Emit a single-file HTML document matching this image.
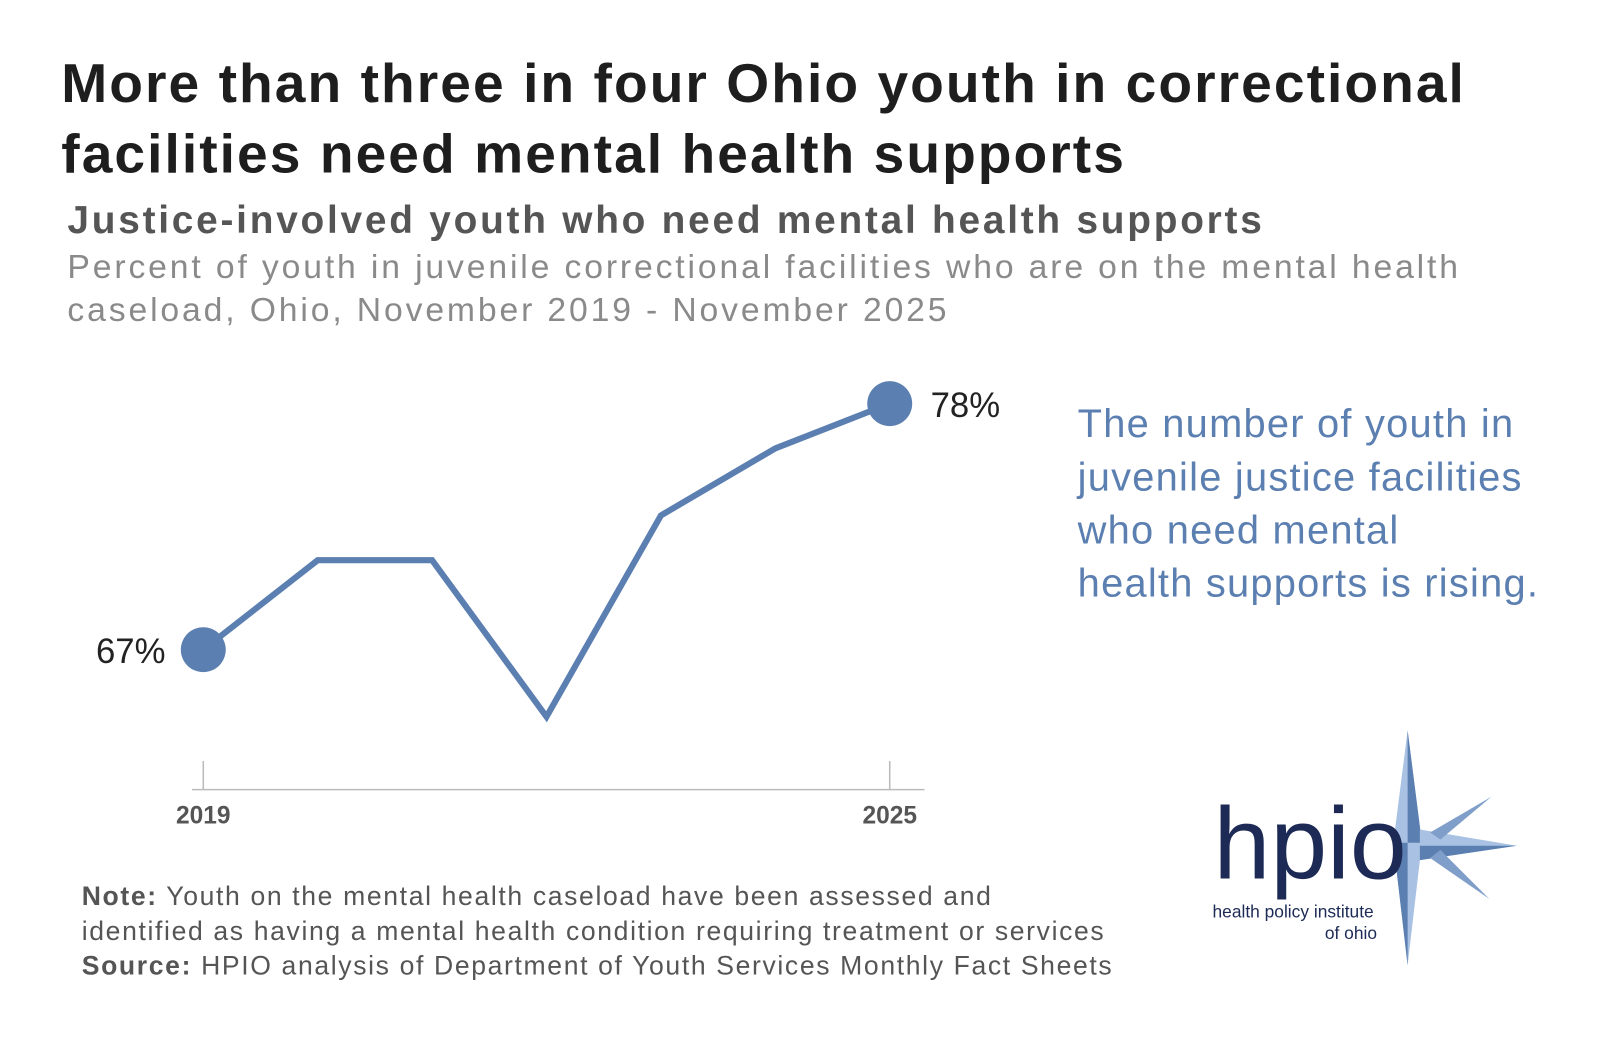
<!DOCTYPE html>
<html><head><meta charset="utf-8"><style>
body{margin:0;width:1600px;height:1057px;background:#fff;overflow:hidden;position:relative;font-family:"Liberation Sans",sans-serif}
#wrap{position:absolute;left:0;top:0;width:1567px;height:1035px;transform:scale(1.0215);transform-origin:0 0}
.t{position:absolute;white-space:nowrap}
</style></head><body>
<div id="wrap">
<div class="t" style="left:60px;top:48px;font-size:54px;font-weight:bold;color:#1e1e1e;line-height:69px;letter-spacing:2px">More than three in four Ohio youth in correctional<br>facilities need mental health supports</div>
<div class="t" style="left:66px;top:195px;font-size:38px;font-weight:bold;color:#555;letter-spacing:2.7px">Justice-involved youth who need mental health supports</div>
<div class="t" style="left:66px;top:240px;font-size:33px;color:#8a8a8a;line-height:42px;letter-spacing:2.8px">Percent of youth in juvenile correctional facilities who are on the mental health<br>caseload, Ohio, November 2019 - November 2025</div>
<div class="t" style="left:1055px;top:390px;font-size:39px;color:#5b7fb0;line-height:52px;letter-spacing:1.2px">The number of youth in<br>juvenile justice facilities<br>who need mental<br>health supports is rising.</div>
<div class="t" style="left:80px;top:860px;font-size:26px;color:#555;line-height:34px;letter-spacing:1.6px"><b>Note:</b> Youth on the mental health caseload have been assessed and<br>identified as having a mental health condition requiring treatment or services<br><b>Source:</b> HPIO analysis of Department of Youth Services Monthly Fact Sheets</div>
<svg id="chart" width="1567" height="1035" style="position:absolute;left:0;top:0"></svg>
<svg width="1567" height="1035" style="position:absolute;left:0;top:0">
<polygon points="1378,715 1392,825 1378,945 1364,825" fill="#a9c2e3"/>
<polygon points="1378,715 1392,825 1378,825" fill="#5b7fb0"/>
<polygon points="1378,945 1364,825 1378,825" fill="#5b7fb0"/>
<polygon points="1485,828 1390,812 1390,842" fill="#a9c2e3"/>
<polygon points="1485,828 1390,842 1390,828" fill="#5b7fb0"/>
<polygon points="1460,780 1400,815 1410,822" fill="#7f9fca"/>
<polygon points="1458,880 1400,840 1410,832" fill="#7f9fca"/>
<text x="1188" y="860" font-size="100" fill="#1c2a55" font-family="Liberation Sans, sans-serif">hpio</text>
<text x="1187" y="898" font-size="17" fill="#1c2a55">health policy institute</text>
<text x="1297" y="919" font-size="17" fill="#1c2a55">of ohio</text>
</svg>
</div>
<script>
const years=["2019","2020","2021","2022","2023","2024","2025"];
const values=[67,71,71,64,73,76,78];
const tickLabels=["2019","2025"];
const svg=document.getElementById('chart');const NS="http://www.w3.org/2000/svg";
const x=i=>199+i*(871-199)/(years.length-1);
const y=v=>636-(v-67)*21.9;
function mk(t,a){const e=document.createElementNS(NS,t);for(const k in a)e.setAttribute(k,a[k]);svg.appendChild(e);return e;}
let ax=mk('line',{x1:188,y1:773,x2:905,y2:773,stroke:'#bbb','stroke-width':1.5});


tickLabels.forEach(l=>{const i=years.indexOf(l);
 let t=mk('line',{x1:x(i),y1:745,x2:x(i),y2:773,stroke:'#bbb','stroke-width':1.5});
 
 
 let tx=mk('text',{x:x(i),y:806,'text-anchor':'middle','font-size':24,'font-weight':'bold',fill:'#555'});tx.textContent=l;
 
 });
let p=mk('polyline',{points:values.map((v,i)=>x(i)+','+y(v)).join(' '),fill:'none',stroke:'#5b7fb0','stroke-width':6,'stroke-linejoin':'miter'});


[0,values.length-1].forEach((i,k)=>{let c=mk('circle',{cx:x(i),cy:y(values[i]),r:22,fill:'#5b7fb0'});
 
 
 let t=mk('text',{x:k?x(i)+40:x(i)-37,y:y(values[i])+13,'text-anchor':k?'start':'end','font-size':34,fill:'#222'});t.textContent=values[i]+'%';
 
 });
</script>
</body></html>
